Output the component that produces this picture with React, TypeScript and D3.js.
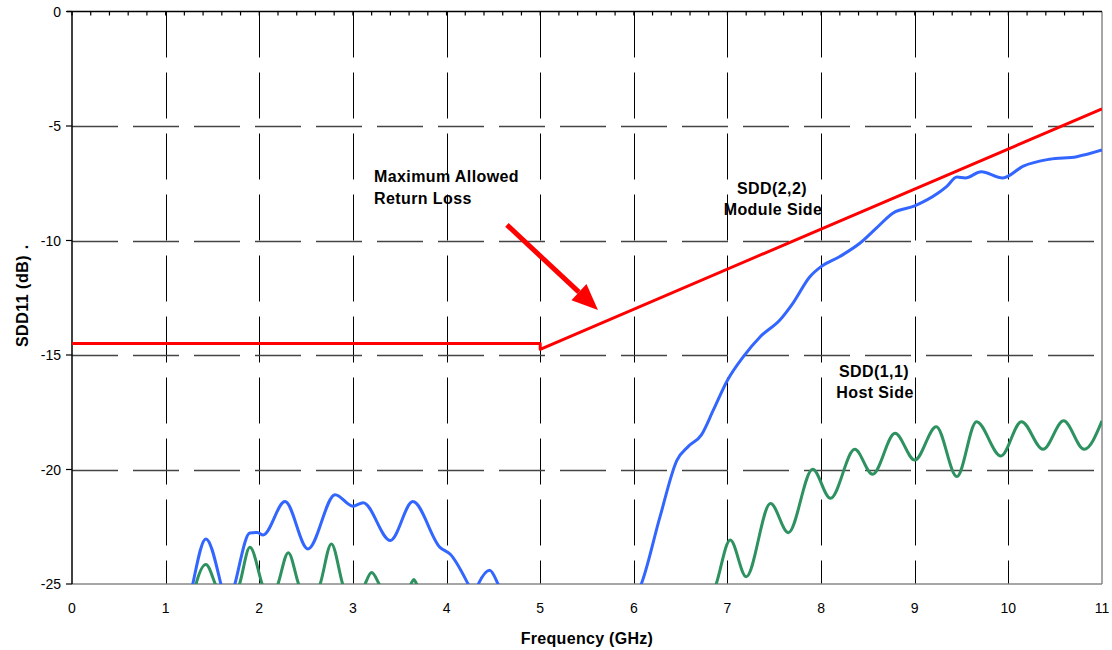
import React from 'react';
import * as d3 from 'd3';

// x ticks (GHz) and y ticks (dB)
const freqTicks = [0, 1, 2, 3, 4, 5, 6, 7, 8, 9, 10, 11];
const dbTicks = [0, -5, -10, -15, -20, -25];

// Maximum allowed return loss (limit line)
const limitFreq = [0, 5, 5, 11];
const limitDb = [-14.5, -14.5, -14.75, -4.25];

// SDD(2,2) module side (blue)
const sdd22Freq = [1.2, 1.29, 1.43, 1.59, 1.66, 1.74, 1.9, 1.98, 2.04, 2.275, 2.52, 2.81, 3.0, 3.11, 3.4, 3.64, 3.93, 4.04, 4.23, 4.29, 4.34, 4.46, 4.55, 4.65, 5.95, 6.08, 6.28, 6.46, 6.58, 6.72, 6.85, 7.0, 7.17, 7.35, 7.56, 7.7, 7.88, 8.0, 8.2, 8.42, 8.59, 8.77, 9.0, 9.25, 9.34, 9.45, 9.54, 9.71, 9.94, 10.16, 10.44, 10.73, 11.0];
const sdd22Db = [-27, -25, -23.03, -25, -26.3, -25, -22.77, -22.75, -22.86, -21.4, -23.47, -21.1, -21.6, -21.45, -23.1, -21.4, -23.4, -23.7, -25, -25.5, -25, -24.4, -25, -26, -26, -25, -22.06, -19.6, -19.0, -18.5, -17.4, -16.1, -15.07, -14.2, -13.47, -12.73, -11.58, -11.14, -10.7, -10.1, -9.46, -8.8, -8.49, -7.93, -7.65, -7.23, -7.27, -7.0, -7.27, -6.75, -6.45, -6.34, -6.05];

// SDD(1,1) host side (green)
const sdd11Freq = [1.25, 1.325, 1.43, 1.53, 1.66, 1.79, 1.9, 2.03, 2.11, 2.2, 2.31, 2.42, 2.53, 2.65, 2.77, 2.89, 3.01, 3.13, 3.2, 3.28, 3.45, 3.62, 3.65, 3.68, 3.8, 6.75, 6.88, 7.03, 7.2, 7.46, 7.65, 7.91, 8.1, 8.36, 8.55, 8.79, 9.0, 9.23, 9.45, 9.66, 9.92, 10.14, 10.37, 10.59, 10.81, 11.0];
const sdd11Db = [-26.5, -25, -24.15, -25, -26.5, -25, -23.4, -25, -26, -25, -23.63, -25, -26, -25, -23.25, -25, -26.5, -25, -24.5, -25, -26.5, -25, -24.8, -25, -26.5, -26.5, -25, -23.08, -24.68, -21.48, -22.76, -19.99, -21.26, -19.12, -20.21, -18.42, -19.59, -18.13, -20.31, -17.91, -19.41, -17.91, -19.12, -17.87, -19.12, -17.88];

// annotations, in data units
const arrowFrom = [4.645, -9.32];
const arrowTo = [5.617, -13.03];

const W = 1112;
const H = 650;
const margin = { top: 11.5, right: 10, bottom: 66, left: 72 };

export default function App() {
  const x = d3.scaleLinear().domain([0, 11]).range([margin.left, W - margin.right]);
  const y = d3.scaleLinear().domain([0, -25]).range([margin.top, H - margin.bottom]);

  const mk = (fs: number[], vs: number[], curve: d3.CurveFactory) =>
    d3.line<number>()
      .x((_, i) => x(fs[i]))
      .y((v) => y(v))
      .curve(curve)(vs) || '';

  const limitPath = mk(limitFreq, limitDb, d3.curveLinear);
  const bluePath = mk(sdd22Freq, sdd22Db, d3.curveMonotoneX);
  const greenPath = mk(sdd11Freq, sdd11Db, d3.curveMonotoneX);

  const x0 = x(0), x1 = x(11), y0 = y(0), y1 = y(-25);
  const minorTicks = d3.range(0, 55).map((i) => i * 0.2);

  // arrow pointing at the limit line
  const ax = x(arrowFrom[0]), ay = y(arrowFrom[1]);
  const bx = x(arrowTo[0]), by = y(arrowTo[1]);
  const ang = Math.atan2(by - ay, bx - ax);
  const headLen = 26, headW = 11;
  const hx = bx - headLen * Math.cos(ang), hy = by - headLen * Math.sin(ang);
  const px = -Math.sin(ang) * headW, py = Math.cos(ang) * headW;

  const font = 'Arial, "Liberation Sans", sans-serif';

  return (
    <svg width={W} height={H} style={{ position: 'absolute', left: 0, top: 0, background: '#fff' }} fontFamily={font}>
      <defs>
        <clipPath id="plot">
          <rect x={x0} y={y0} width={x1 - x0} height={y1 - y0} />
        </clipPath>
      </defs>

      {/* grid */}
      {freqTicks.slice(1, -1).map((f) => (
        <line key={'v' + f} x1={Math.round(x(f)) + 0.5} x2={Math.round(x(f)) + 0.5} y1={y0} y2={y1}
          stroke="#000" strokeWidth={1} strokeDasharray="46,15" />
      ))}
      {dbTicks.slice(1, -1).map((d) => (
        <line key={'h' + d} x1={x0} x2={x1} y1={Math.round(y(d)) + 0.5} y2={Math.round(y(d)) + 0.5}
          stroke="#444" strokeWidth={1.3} strokeDasharray="46,15" />
      ))}

      {/* frame */}
      <line x1={x1} x2={x1} y1={y0} y2={y1} stroke="#888" strokeWidth={1.5} />
      <line x1={x0} x2={x1} y1={y1} y2={y1} stroke="#888" strokeWidth={1.5} />
      <line x1={x0 - 5} x2={x1} y1={y0} y2={y0} stroke="#000" strokeWidth={1.5} />
      <line x1={x0} x2={x0} y1={y0} y2={y1} stroke="#000" strokeWidth={1.5} />
      {minorTicks.map((f, i) => (
        <line key={'mt' + i} x1={x(f)} x2={x(f)} y1={y0} y2={y0 + 4} stroke="#000" strokeWidth={1.2} />
      ))}
      {dbTicks.map((d) => (
        <line key={'yt' + d} x1={x0 - 6} x2={x0} y1={y(d)} y2={y(d)} stroke="#000" strokeWidth={1.2} />
      ))}

      {/* series */}
      <g clipPath="url(#plot)" fill="none" strokeLinejoin="round">
        <path d={greenPath} stroke="#2e9160" strokeWidth={3} />
        <path d={bluePath} stroke="#3366ff" strokeWidth={3} />
        <path d={limitPath} stroke="#ff0000" strokeWidth={3} />
      </g>

      {/* arrow */}
      <line x1={ax} y1={ay} x2={hx} y2={hy} stroke="#ff0000" strokeWidth={5} />
      <polygon points={`${bx},${by} ${hx + px},${hy + py} ${hx - px},${hy - py}`} fill="#ff0000" />

      {/* tick labels */}
      {freqTicks.map((f) => (
        <text key={'xl' + f} x={x(f)} y={613} textAnchor="middle" fontSize={14} fill="#000">{f}</text>
      ))}
      {dbTicks.map((d) => (
        <text key={'yl' + d} x={x0 - 11} y={y(d) + 5} textAnchor="end" fontSize={14} fill="#000">{d}</text>
      ))}

      {/* axis titles */}
      <text x={587} y={644} textAnchor="middle" fontSize={16} fontWeight="bold" letterSpacing={0.3}>Frequency (GHz)</text>
      <text transform="translate(28,301) rotate(-90)" textAnchor="middle" fontSize={16} fontWeight="bold" letterSpacing={0.5}>
        SDD11 (dB)
      </text>
      <text transform="translate(28,247) rotate(-90)" textAnchor="middle" fontSize={16} fontWeight="bold">.</text>

      {/* annotations */}
      <g fontSize={16} fontWeight="bold" fill="#000" letterSpacing={0.4}>
        <text x={374} y={182}>Maximum Allowed</text>
        <text x={374} y={204}>Return Loss</text>
        <text x={772} y={194} textAnchor="middle">SDD(2,2)</text>
        <text x={773} y={215} textAnchor="middle">Module Side</text>
        <text x={874} y={377} textAnchor="middle">SDD(1,1)</text>
        <text x={875} y={398} textAnchor="middle">Host Side</text>
      </g>
    </svg>
  );
}
